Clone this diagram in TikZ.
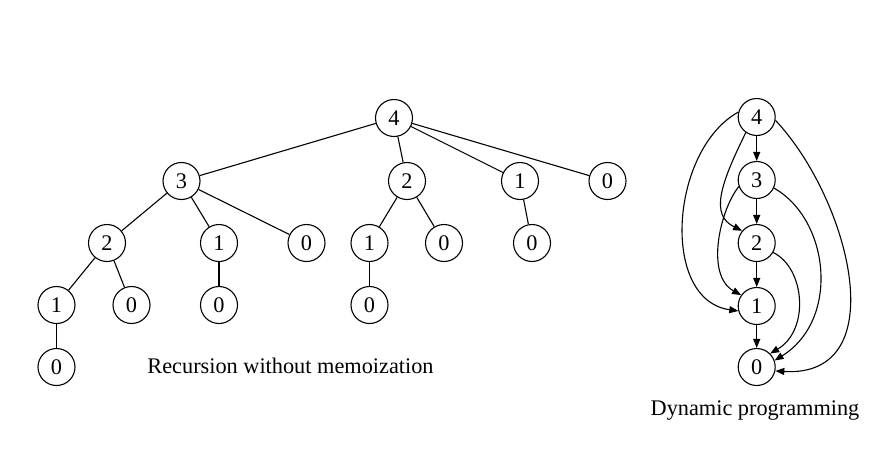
\documentclass[tikz,border=0pt]{standalone}
\usepackage{fontspec}
\setmainfont{Liberation Serif}
\usetikzlibrary{arrows.meta}
\begin{document}
\begin{tikzpicture}[x=1pt,y=-1pt,
  vnode/.style={draw,circle,minimum size=37pt,inner sep=0pt,line width=1.1pt,font=\fontsize{22.3}{26}\selectfont},
  edge/.style={line width=1.1pt},
  arr/.style={line width=1.1pt,-{Triangle[length=9pt,width=7pt]}},
  lbl/.style={font=\fontsize{22.3}{26}\selectfont,anchor=base,inner sep=0pt}
]
\useasboundingbox (0,0) rectangle (882,467);
% recursion tree
\node[vnode] (a4) at (394,118) {4};
\node[vnode] (a3) at (181.5,181) {3};
\node[vnode] (a2r) at (407,181) {2};
\node[vnode] (a1r) at (520,181) {1};
\node[vnode] (a0r) at (607.5,181) {0};
\node[vnode] (b2) at (107,243) {2};
\node[vnode] (b1) at (219,243) {1};
\node[vnode] (b0) at (306.5,243) {0};
\node[vnode] (b1r) at (369.5,243) {1};
\node[vnode] (b0r) at (444,243) {0};
\node[vnode] (b0rr) at (532,243) {0};
\node[vnode] (c1) at (56.5,305) {1};
\node[vnode] (c0) at (131.5,305) {0};
\node[vnode] (c0m) at (219,305) {0};
\node[vnode] (c0r) at (369.5,305) {0};
\node[vnode] (d0) at (56.5,367) {0};
\draw[edge] (a4) -- (a3);
\draw[edge] (a4) -- (a2r);
\draw[edge] (a4) -- (a1r);
\draw[edge] (a4) -- (a0r);
\draw[edge] (a3) -- (b2);
\draw[edge] (a3) -- (b1);
\draw[edge] (a3) -- (b0);
\draw[edge] (a2r) -- (b1r);
\draw[edge] (a2r) -- (b0r);
\draw[edge] (a1r) -- (b0rr);
\draw[edge] (b2) -- (c1);
\draw[edge] (b2) -- (c0);
\draw[edge] (b1) -- (c0m);
\draw[edge] (b1r) -- (c0r);
\draw[edge] (c1) -- (d0);
\node[lbl] (t1) at (290.5,373.5) {Recursion without memoization};
% DAG
\node[vnode] (n4) at (756.7,117) {4};
\node[vnode] (n3) at (756.7,180) {3};
\node[vnode] (n2) at (756.7,243) {2};
\node[vnode] (n1) at (756.7,306) {1};
\node[vnode] (n0) at (756.7,367) {0};
\draw[arr] (n4) -- (n3);
\draw[arr] (n3) -- (n2);
\draw[arr] (n2) -- (n1);
\draw[arr] (n1) -- (n0);
\draw[arr] (n4.-125) .. controls (720,185) and (710,215) .. (n2.140);
\draw[arr] (n4.165) .. controls (670,150) and (660,300) .. (n1.-165);
\draw[arr] (n3.-160) .. controls (720,210) and (705,275) .. (n1.145);
\draw[arr] (n3.-25) .. controls (830,220) and (840,320) .. (n0.20);
\draw[arr] (n2.-30) .. controls (805,268) and (810,330) .. (n0.45);
\draw[arr] (n4.-10) .. controls (850,200) and (895,378) .. (n0.-12);
\node[lbl] (t2) at (755,415) {Dynamic programming};
\end{tikzpicture}
\end{document}
